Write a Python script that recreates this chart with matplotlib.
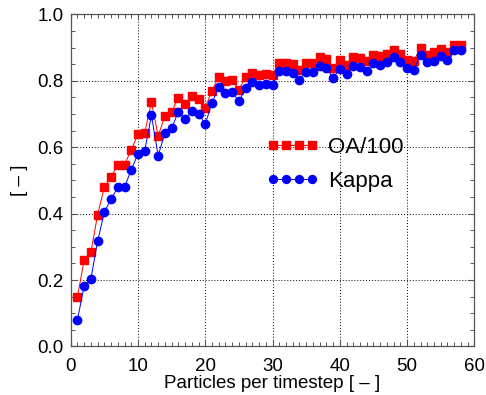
import matplotlib
matplotlib.use('Agg')
import matplotlib.pyplot as plt
from matplotlib.ticker import MultipleLocator, FormatStrFormatter

###########                 Data                 ###########
#----------------------------------------------------------#
particles = [1, 2, 3, 4, 5, 6, 7, 8, 9, 10,
             11, 12, 13, 14, 15, 16, 17, 18, 19, 20,
             21, 22, 23, 24, 25, 26, 27, 28, 29, 30,
             31, 32, 33, 34, 35, 36, 37, 38, 39, 40,
             41, 42, 43, 44, 45, 46, 47, 48, 49, 50,
             51, 52, 53, 54, 55, 56, 57, 58]

oa_100 = [0.150, 0.260, 0.284, 0.397, 0.480, 0.512, 0.547, 0.547, 0.593, 0.639,
          0.644, 0.737, 0.634, 0.694, 0.707, 0.749, 0.731, 0.753, 0.745, 0.719,
          0.771, 0.812, 0.799, 0.802, 0.774, 0.812, 0.824, 0.818, 0.822, 0.818,
          0.854, 0.854, 0.852, 0.832, 0.854, 0.854, 0.872, 0.866, 0.839, 0.862,
          0.849, 0.872, 0.869, 0.859, 0.879, 0.876, 0.882, 0.894, 0.882, 0.864,
          0.861, 0.899, 0.879, 0.886, 0.896, 0.886, 0.909, 0.909]

kappa = [0.080, 0.183, 0.204, 0.317, 0.405, 0.444, 0.479, 0.480, 0.532, 0.580,
         0.590, 0.696, 0.575, 0.643, 0.657, 0.707, 0.685, 0.710, 0.701, 0.670,
         0.734, 0.781, 0.764, 0.767, 0.738, 0.779, 0.796, 0.787, 0.790, 0.787,
         0.829, 0.829, 0.824, 0.802, 0.828, 0.826, 0.846, 0.839, 0.809, 0.836,
         0.821, 0.844, 0.842, 0.829, 0.854, 0.849, 0.857, 0.872, 0.857, 0.838,
         0.834, 0.877, 0.856, 0.861, 0.874, 0.864, 0.892, 0.892]

###########                 Plot                 ###########
#----------------------------------------------------------#
plt.rcParams['font.family'] = ['Liberation Sans', 'DejaVu Sans']

fig = plt.figure(figsize=(4.86, 3.95), dpi=100)
ax = fig.add_axes([0.1455, 0.1228, 0.8305, 0.8405])

ax.plot(particles, oa_100, color='red', marker='s', ms=5.5, lw=0.7,
        mec='red', label='OA/100', zorder=3)
ax.plot(particles, kappa, color='blue', marker='o', ms=6, lw=0.7,
        mec='blue', label='Kappa', zorder=3)

ax.set_xlim(0, 60)
ax.set_ylim(0, 1.0)
ax.xaxis.set_major_locator(MultipleLocator(10))
ax.xaxis.set_minor_locator(MultipleLocator(1))
ax.yaxis.set_major_locator(MultipleLocator(0.2))
ax.yaxis.set_minor_locator(MultipleLocator(0.05))
ax.yaxis.set_major_formatter(FormatStrFormatter('%.1f'))

ax.grid(which='major', color='black', linestyle=(0, (1, 2)), linewidth=0.7)
ax.tick_params(which='both', direction='in', top=True, right=True,
               labelsize=13.5, color='#555555')
ax.tick_params(axis='x', which='major', pad=8)
ax.tick_params(axis='y', which='major', pad=5)
ax.tick_params(which='major', length=4, width=0.8)
ax.tick_params(which='minor', length=3, width=0.7)
for s in ax.spines.values():
    s.set_color('#555555')
    s.set_linewidth(0.9)

ax.set_xlabel('Particles per timestep [ \u2013 ]', fontsize=13.5, labelpad=0)
ax.set_ylabel('[ \u2013 ]', fontsize=13.5, labelpad=7)

ax.legend(loc='center left', bbox_to_anchor=(0.484, 0.548), frameon=False,
          borderpad=0, borderaxespad=0,
          numpoints=4, handlelength=2.35, handletextpad=0.43,
          labelspacing=0.58, fontsize=16, markerscale=0.95)

fig.savefig('out.png', dpi=100)
